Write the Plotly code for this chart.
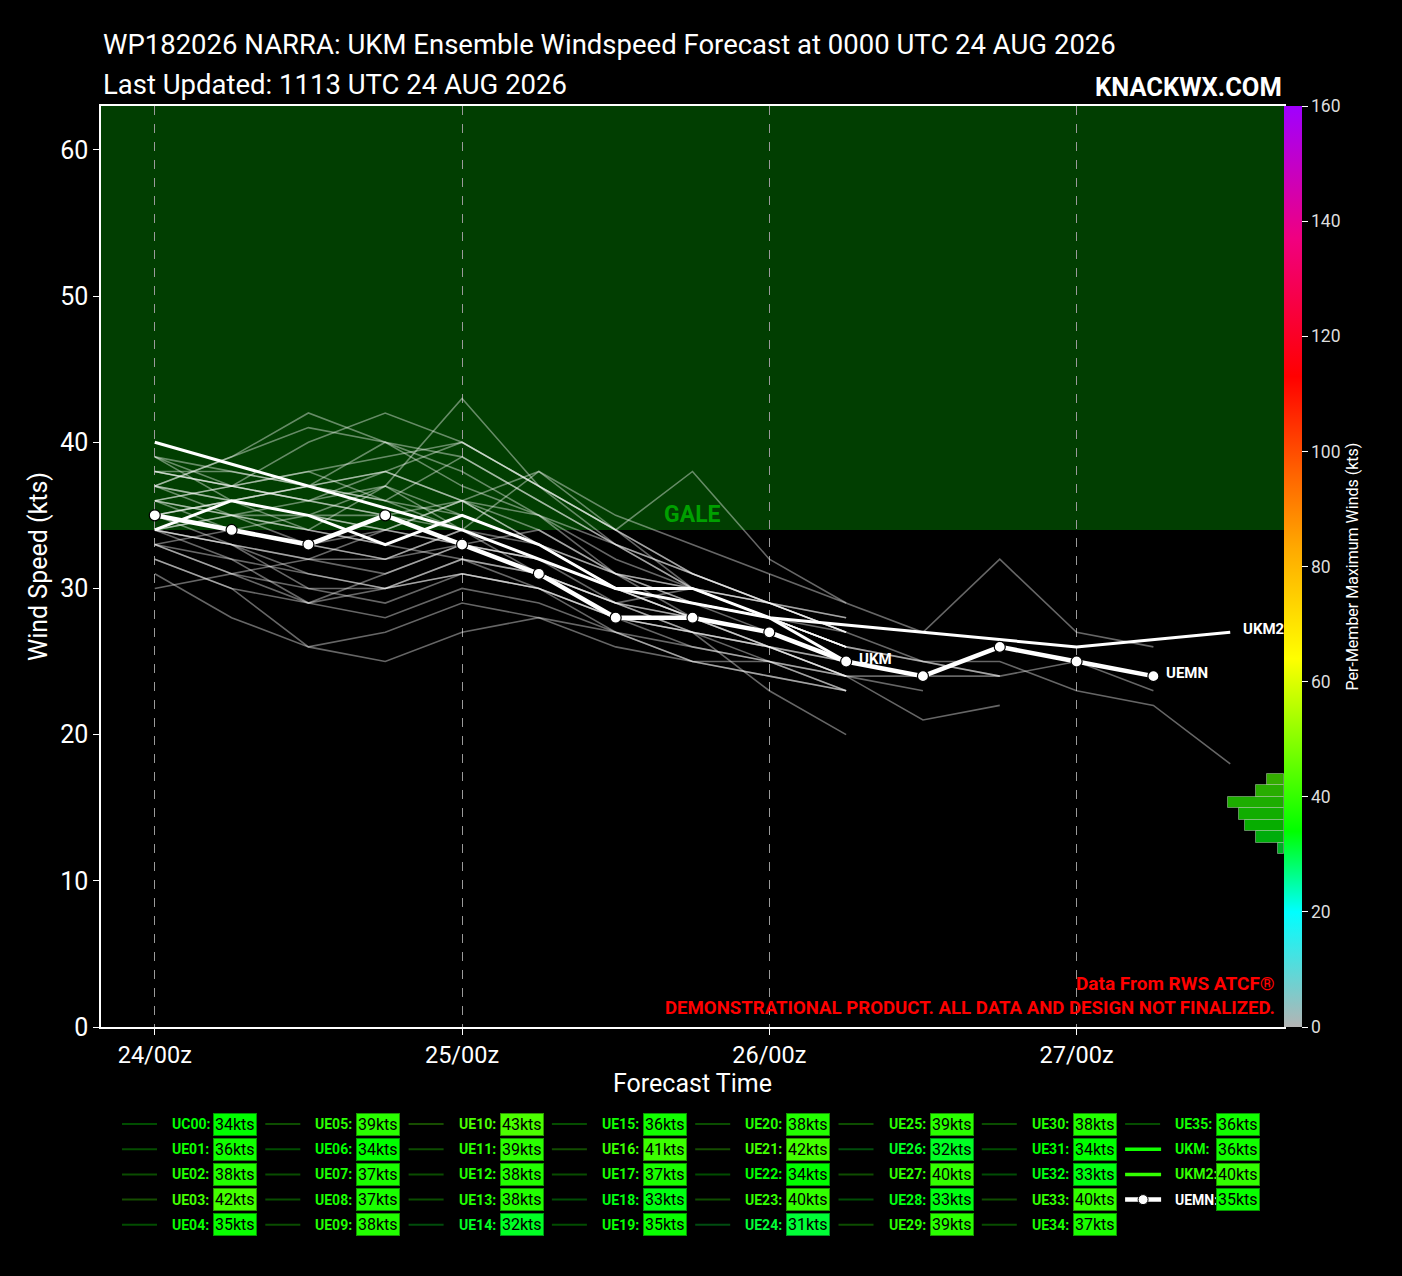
import numpy as np
import plotly.graph_objects as go

# ---------------- data ----------------
HOURS = list(range(0, 90, 6))            # forecast hours 0..84
DAY_TICKS = [0, 24, 48, 72]
DAY_LABELS = ["24/00z", "25/00z", "26/00z", "27/00z"]
Y_TICKS = [0, 10, 20, 30, 40, 50, 60]
CB_TICKS = [0, 20, 40, 60, 80, 100, 120, 140, 160]
HIST_EDGES = [30, 32, 34, 36, 38, 40, 42, 44]
GALE_KT = 34

UC00 = [34, 33, 32, 31, 33, 32, 30, 29, 28, 26]
UE01 = [36, 35, 33, 34, 36, 33, 30, 28, 27, 25]
UE02 = [38, 37, 36, 35, 33, 32, 29, 27, 26, 24]
UE03 = [37, 39, 42, 40, 37, 35, 31, 29, 27, 25]
UE04 = [35, 33, 31, 30, 32, 31, 28, 27, 26, 24, 23]
UE05 = [39, 38, 37, 36, 35, 33, 30, 28, 27]
UE06 = [34, 33, 30, 29, 31, 30, 28, 26, 25, 23]
UE07 = [37, 35, 34, 33, 32, 31, 29, 28, 26, 25]
UE08 = [33, 34, 35, 37, 34, 32, 30, 29, 28, 26]
UE09 = [38, 37, 36, 37, 35, 33, 31, 29, 28, 27]
UE10 = [36, 35, 34, 37, 43, 37, 33, 30, 28, 26]
UE11 = [39, 36, 35, 34, 33, 31, 29, 28, 27, 25]
UE12 = [36, 37, 38, 36, 34, 32, 30, 28, 26, 25]
UE13 = [34, 35, 36, 38, 36, 34, 31, 30, 29, 27, 25, 24]
UE14 = [32, 30, 29, 28, 30, 29, 27, 25, 24, 23]
UE15 = [36, 34, 33, 32, 34, 33, 31, 30, 29, 27]
UE16 = [37, 39, 41, 40, 39, 36, 33, 30, 28, 26]
UE17 = [37, 36, 35, 34, 33, 32, 30, 29, 28, 26, 25, 25, 23, 22, 18]
UE18 = [33, 32, 31, 30, 31, 30, 28, 27, 25, 23]
UE19 = [35, 34, 33, 32, 34, 31, 29, 27, 26, 24]
UE20 = [35, 36, 37, 38, 36, 35, 33, 31, 29, 27]
UE21 = [38, 37, 40, 42, 40, 37, 34, 31, 29, 27]
UE22 = [34, 32, 29, 31, 33, 34, 31, 28, 26, 24]
UE23 = [38, 38, 37, 40, 38, 35, 32, 30, 28, 26]
UE24 = [31, 28, 26, 27, 29, 28, 26, 25, 25, 24, 21, 22]
UE25 = [39, 37, 36, 35, 34, 38, 34, 31, 29, 27]
UE26 = [32, 30, 26, 25, 27, 28, 27, 25, 24, 23]
UE27 = [36, 37, 38, 39, 40, 37, 34, 30, 29, 28]
UE28 = [33, 31, 29, 30, 32, 30, 27, 26, 25, 24, 24, 24]
UE29 = [35, 36, 37, 36, 39, 36, 33, 31, 29, 28]
UE30 = [34, 35, 35, 35, 36, 38, 35, 33, 31, 29, 27, 32, 27, 26]
UE31 = [34, 33, 32, 32, 33, 31, 29, 30, 28, 26]
UE32 = [33, 31, 30, 30, 31, 30, 28, 27, 23, 20]
UE33 = [35, 36, 37, 38, 40, 37, 34, 38, 32, 29]
UE34 = [37, 36, 34, 33, 35, 33, 30, 29, 28, 26, 25, 24, 25, 23]
UE35 = [30, 31, 32, 34, 36, 33, 30, 28, 27, 25]

MEMBER_NAMES = ["UC00"] + ["UE%02d" % i for i in range(1, 36)]
MEMBER_SERIES = [UC00, UE01, UE02, UE03, UE04, UE05, UE06, UE07, UE08, UE09,
                 UE10, UE11, UE12, UE13, UE14, UE15, UE16, UE17, UE18, UE19,
                 UE20, UE21, UE22, UE23, UE24, UE25, UE26, UE27, UE28, UE29,
                 UE30, UE31, UE32, UE33, UE34, UE35]

UKM_HOURS = [0, 6, 12, 18, 24, 30, 36, 42, 48, 54]
UKM = [34, 36, 35, 33, 35, 33, 30, 30, 28, 25]
UKM2_HOURS = [0, 12, 24, 36, 48, 60, 72, 84]
UKM2 = [40, 37, 34, 30, 28, 27, 26, 27]
UEMN_HOURS = [0, 6, 12, 18, 24, 30, 36, 42, 48, 54, 60, 66, 72, 78]
UEMN = [35, 34, 33, 35, 33, 31, 28, 28, 27, 25, 24, 26, 25, 24]

# ---------------- styling helpers ----------------
FONT = "Roboto, Liberation Sans, sans-serif"
W, H = 1402, 1276
PL, PR, PT, PB = 101, 1284, 106, 1027

STOPS = [(0, (180, 180, 180)), (20, (0, 255, 255)), (34, (0, 255, 0)),
         (64, (255, 255, 0)), (83, (255, 170, 0)), (96, (255, 100, 0)),
         (113, (255, 0, 0)), (137, (240, 0, 128)), (160, (160, 0, 255))]


def rgb_of(v):
    for (a, ca), (b, cb) in zip(STOPS[:-1], STOPS[1:]):
        if a <= v <= b:
            f = (v - a) / (b - a)
            return tuple(ca[i] + f * (cb[i] - ca[i]) for i in range(3))
    return STOPS[-1][1]


def cmap(v, k=1.0, alpha=None):
    r, g, b = [int(round(c * k)) for c in rgb_of(v)]
    if alpha is None:
        return "rgb(%d,%d,%d)" % (r, g, b)
    return "rgba(%d,%d,%d,%.2f)" % (r, g, b, alpha)


COLORSCALE = [[s / 160.0, cmap(s)] for s, _ in STOPS]


def px(x):
    return (x - PL) / (PR - PL)


def py(y):
    return (PB - y) / (PB - PT)


# ---------------- figure ----------------
fig = go.Figure()

for name, s in zip(MEMBER_NAMES, MEMBER_SERIES):
    fig.add_trace(go.Scatter(x=HOURS[:len(s)], y=s, mode="lines", name=name,
                             line=dict(color="rgba(255,255,255,0.40)", width=1.6),
                             hoverinfo="skip"))

fig.add_trace(go.Scatter(x=UKM2_HOURS, y=UKM2, mode="lines", name="UKM2",
                         line=dict(color="white", width=3)))
fig.add_trace(go.Scatter(x=UKM_HOURS, y=UKM, mode="lines", name="UKM",
                         line=dict(color="white", width=3)))
fig.add_trace(go.Scatter(x=UEMN_HOURS, y=UEMN, mode="lines+markers", name="UEMN",
                         line=dict(color="white", width=4.5),
                         marker=dict(size=11, color="white",
                                     line=dict(color="black", width=1.2))))

# colour bar (hidden markers carry the scale)
fig.add_trace(go.Scatter(x=UEMN_HOURS, y=UEMN, mode="markers", hoverinfo="skip",
                         marker=dict(color=UEMN, colorscale=COLORSCALE, cmin=0, cmax=160,
                                     opacity=0, size=1, showscale=True,
                                     colorbar=dict(x=1.0, xanchor="left", xpad=0,
                                                   thickness=18, len=1, lenmode="fraction",
                                                   y=0.5, yanchor="middle", ypad=0,
                                                   outlinewidth=0, tickvals=CB_TICKS,
                                                   ticks="outside", ticklen=6,
                                                   tickcolor="white",
                                                   tickfont=dict(family=FONT, size=17.5,
                                                                 color="#dddddd"),
                                                   title=dict(text="Per-Member Maximum Winds (kts)",
                                                              side="right",
                                                              font=dict(family=FONT, size=16,
                                                                        color="white"))))))

# histogram of per-member maxima
all_max = [max(s) for s in MEMBER_SERIES] + [max(UKM), max(UKM2), max(UEMN)]
counts, edges = np.histogram(all_max, bins=HIST_EDGES)
centers = [(a + b) / 2 for a, b in zip(edges[:-1], edges[1:])]
fig.add_trace(go.Bar(x=counts, y=centers, width=2, orientation="h",
                     xaxis="x2", yaxis="y2", hoverinfo="skip",
                     marker=dict(color=[cmap(c, 0.68) for c in centers],
                                 line=dict(color="rgba(255,255,255,0.35)", width=1))))

fig.update_layout(
    width=W, height=H,
    paper_bgcolor="black", plot_bgcolor="rgba(0,0,0,0)",
    showlegend=False,
    margin=dict(l=PL, r=W - PR, t=PT, b=H - PB, autoexpand=False),
    font=dict(family=FONT, color="white"),
    xaxis=dict(range=[-4.2, 88.2], tickvals=DAY_TICKS, ticktext=DAY_LABELS,
               showgrid=True, gridcolor="#9a9a9a", griddash="dash", gridwidth=1,
               zeroline=False, showline=True, linecolor="white", linewidth=1.5,
               mirror=True, ticks="outside", ticklen=6, tickcolor="white",
               tickfont=dict(family=FONT, size=23.5, color="white"),
               title=dict(text="Forecast Time", font=dict(family=FONT, size=25, color="white"),
                          standoff=4)),
    yaxis=dict(range=[0, 63], tickvals=Y_TICKS, showgrid=False, zeroline=False,
               showline=True, linecolor="white", linewidth=1.5, mirror=True,
               ticks="outside", ticklen=6, tickcolor="white",
               tickfont=dict(family=FONT, size=25, color="white"),
               title=dict(text="Wind Speed (kts)", font=dict(family=FONT, size=25, color="white"),
                          standoff=5)),
    xaxis2=dict(domain=[px(1172), 1.0], range=[20, 0], visible=False, anchor="y2",
                fixedrange=True),
    yaxis2=dict(domain=[0, 1], range=[0, 160], visible=False, anchor="x2",
                fixedrange=True),
    bargap=0,
)

shapes = [dict(type="rect", xref="paper", yref="y", x0=0, x1=1, y0=GALE_KT, y1=63,
               fillcolor="#013e01", line=dict(width=0), layer="below")]

annotations = [
    dict(xref="paper", yref="paper", x=0, y=py(45), xanchor="left", yanchor="middle",
         text="WP182026 NARRA: UKM Ensemble Windspeed Forecast at 0000 UTC 24 AUG 2026",
         showarrow=False, font=dict(family=FONT, size=27.5, color="white")),
    dict(xref="paper", yref="paper", x=0, y=py(85), xanchor="left", yanchor="middle",
         text="Last Updated: 1113 UTC 24 AUG 2026",
         showarrow=False, font=dict(family=FONT, size=27.5, color="white")),
    dict(xref="paper", yref="paper", x=1, y=py(87), xanchor="right", yanchor="middle",
         text="<b>KNACKWX.COM</b>", showarrow=False,
         font=dict(family=FONT, size=25.5, color="white")),
    dict(xref="x", yref="y", x=42, y=GALE_KT, xanchor="center", yanchor="bottom",
         text="<b>GALE</b>", showarrow=False,
         font=dict(family=FONT, size=23, color="#00a000")),
    dict(xref="paper", yref="paper", x=px(1277), y=py(983), xanchor="right", yanchor="middle",
         text="<b>Data From RWS ATCF®</b>", showarrow=False,
         font=dict(family=FONT, size=19, color="#ff0000")),
    dict(xref="paper", yref="paper", x=px(1277), y=py(1008), xanchor="right", yanchor="middle",
         text="<b>DEMONSTRATIONAL PRODUCT. ALL DATA AND DESIGN NOT FINALIZED.</b>",
         showarrow=False, font=dict(family=FONT, size=18.6, color="#ff0000")),
]

# end-of-line labels
for lbl, xs, ys in [("UKM", UKM_HOURS, UKM), ("UKM2", UKM2_HOURS, UKM2), ("UEMN", UEMN_HOURS, UEMN)]:
    annotations.append(dict(xref="x", yref="y", x=xs[-1], y=ys[-1], xanchor="left",
                            yanchor="middle", xshift=11, yshift=3, showarrow=False,
                            text="<b>%s</b>" % lbl,
                            font=dict(family=FONT, size=15, color="white")))

# custom legend (column-major, 5 rows x 8 columns)
leg_names = MEMBER_NAMES + ["UKM", "UKM2", "UEMN"]
leg_max = all_max
for k, (name, vmax) in enumerate(zip(leg_names, leg_max)):
    col, row = k // 5, k % 5
    base = 122 + 143.3 * col
    yc = 1124 + 25.2 * row
    yy = py(yc)
    if name in ("UKM", "UKM2"):
        shapes.append(dict(type="line", xref="paper", yref="paper", x0=px(base), x1=px(base + 36),
                           y0=yy, y1=yy, line=dict(color=cmap(vmax), width=3.5)))
        lab_col = cmap(vmax)
    elif name == "UEMN":
        shapes.append(dict(type="line", xref="paper", yref="paper", x0=px(base), x1=px(base + 36),
                           y0=yy, y1=yy, line=dict(color="white", width=4.5)))
        shapes.append(dict(type="circle", xref="paper", yref="paper",
                           x0=px(base + 13), x1=px(base + 23), y0=py(yc + 5), y1=py(yc - 5),
                           fillcolor="white", line=dict(color="black", width=1)))
        lab_col = "white"
    else:
        shapes.append(dict(type="line", xref="paper", yref="paper", x0=px(base), x1=px(base + 35),
                           y0=yy, y1=yy, line=dict(color=cmap(vmax, alpha=0.3), width=2)))
        lab_col = cmap(vmax)
    annotations.append(dict(xref="paper", yref="paper", x=px(base + 48), y=yy,
                            xanchor="left", yanchor="middle", showarrow=False,
                            text="<b>%s:</b>" % name,
                            font=dict(family=FONT, size=14, color=lab_col)))
    annotations.append(dict(xref="paper", yref="paper", x=px(base + 91), y=yy,
                            xanchor="left", yanchor="middle", showarrow=False,
                            text="%dkts" % vmax, bgcolor=cmap(vmax),
                            bordercolor=cmap(vmax, 0.6), borderwidth=1, borderpad=1,
                            font=dict(family=FONT, size=16, color="black")))

fig.update_layout(shapes=shapes, annotations=annotations)
fig.write_html("out.html",
               config={"displayModeBar": False},
               post_script="document.body.style.margin='0';"
                           "document.body.style.backgroundColor='black';"
                           "document.documentElement.style.overflow='hidden';")
